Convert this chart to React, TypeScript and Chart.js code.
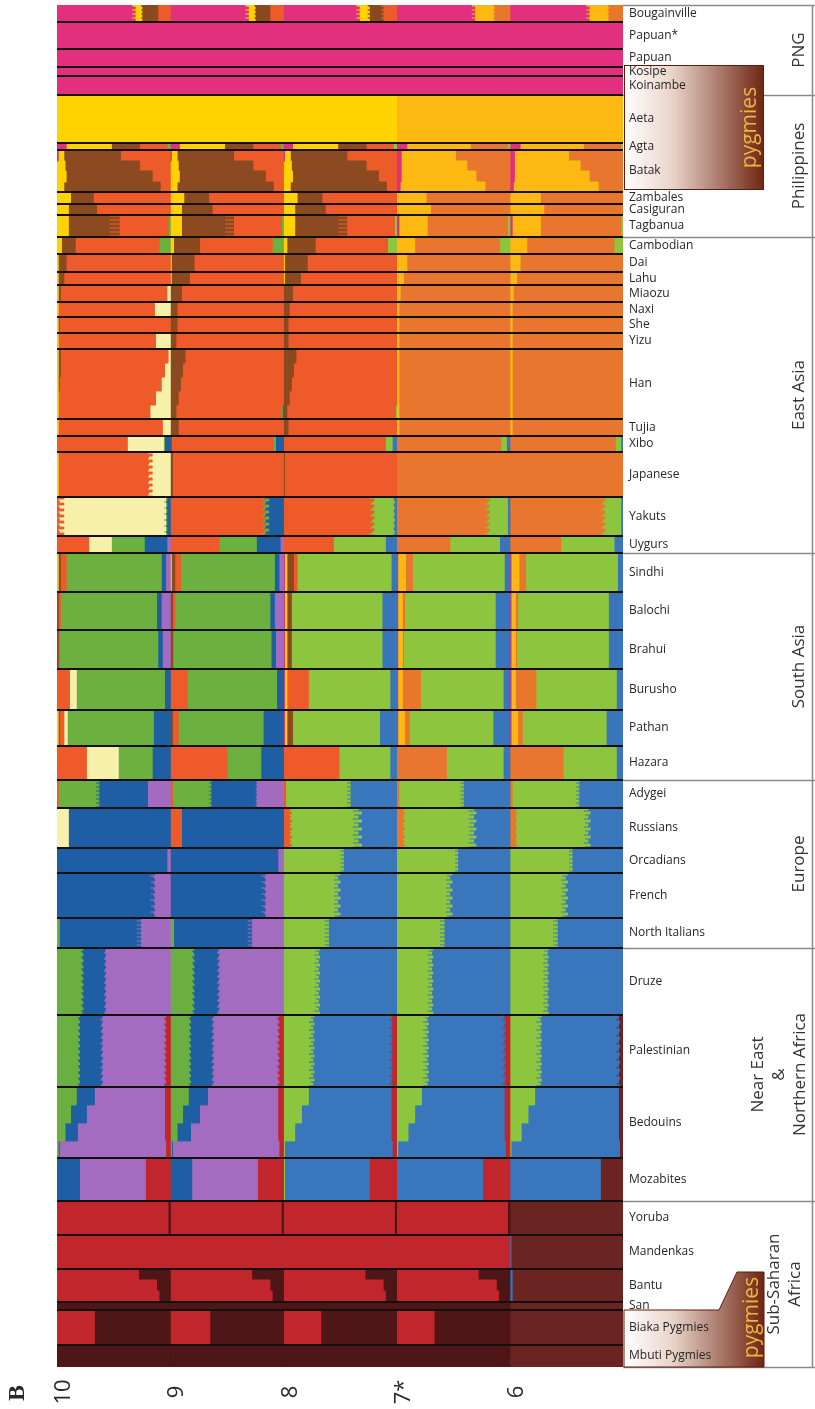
import { useEffect, useRef } from "react";
import { Chart, registerables } from "chart.js";
Chart.register(...registerables);

// ---------- DATA ----------
const populations = [
  "Bougainville", "Papuan*", "Papuan", "Kosipe", "Koinambe",
  "Aeta", "Agta", "Batak", "Zambales", "Casiguran", "Tagbanua",
  "Cambodian", "Dai", "Lahu", "Miaozu", "Naxi", "She", "Yizu", "Han", "Tujia", "Xibo", "Japanese", "Yakuts", "Uygurs",
  "Sindhi", "Balochi", "Brahui", "Burusho", "Pathan", "Hazara",
  "Adygei", "Russians", "Orcadians", "French", "North Italians",
  "Druze", "Palestinian", "Bedouins", "Mozabites",
  "Yoruba", "Mandenkas", "Bantu", "San", "Biaka Pygmies", "Mbuti Pygmies",
];
// number of individual rows per population
const sizes = [17, 27, 18, 9, 19, 48, 7, 42, 12, 11, 22, 17, 18, 13, 17, 15, 16, 16, 70, 17, 16, 45, 39, 17,
  39, 38, 39, 41, 36, 34, 28, 40, 25, 45, 30, 67, 72, 71, 43, 34, 34, 33, 8, 35, 22];

const regionNames = [["PNG"], ["Philippines"], ["East Asia"], ["South Asia"], ["Europe"], ["Near East", "&", "Northern Africa"], ["Sub-Saharan", "Africa"]];
const regionLast = ["Koinambe", "Tagbanua", "Uygurs", "Hazara", "North Italians", "Mozabites", "Mbuti Pygmies"];
const kLabels = ["10", "9", "8", "7*", "6"];

const comps10 = ["P", "Y", "B", "O", "L", "G", "U", "V", "R", "M"];
const comps9 = ["P", "Y", "B", "O", "G", "U", "V", "R", "M"];
const comps8 = ["P", "Y", "B", "O", "G", "U", "R", "M"];
const comps7 = ["P", "Y", "O", "G", "U", "R", "M"];
const comps6 = ["P", "Y", "O", "G", "U", "A"];

type Mix = Record<string, number>;
type Entry = Mix | Mix[];

const K10: Entry[] = [
  [{ P: .66, Y: .08, B: .15, O: .11 }, { P: .69, Y: .06, B: .14, O: .11 }],
  { P: 1 }, { P: 1 }, { P: 1 }, { P: 1 },
  { Y: 1 },
  { P: .08, Y: .4, B: .25, O: .24, G: .03 },
  [{ P: .01, Y: .05, B: .5, O: .44 }, { Y: .07, B: .66, O: .27 }, { Y: .08, B: .76, O: .16 }, { Y: .06, B: .85, O: .09 }],
  { Y: .12, B: .2, O: .68 },
  { Y: .1, B: .25, O: .65 },
  [{ Y: .1, B: .36, O: .52, G: .02 }, { Y: .1, B: .45, O: .43, G: .02 }],
  { Y: .04, B: .12, O: .74, G: .1 },
  { Y: .01, B: .07, O: .92 },
  { Y: .01, B: .05, O: .94 },
  { Y: .01, B: .02, O: .94, L: .03 },
  { Y: .01, O: .85, L: .14 },
  { Y: .01, B: .01, O: .98 },
  { Y: .01, O: .86, L: .13 },
  [{ Y: .01, B: .02, O: .95, L: .02 }, { Y: .01, B: .02, O: .92, L: .05 }, { Y: .01, B: .01, O: .9, L: .08 }, { Y: .01, O: .86, L: .13 }, { Y: .01, O: .81, L: .18 }],
  { Y: .01, O: .92, L: .07 },
  { O: .62, L: .32, G: .01, U: .05 },
  [{ Y: .01, O: .79, L: .2 }, { Y: .01, O: .83, L: .16 }, { Y: .01, O: .8, L: .19 }],
  [{ O: .06, L: .9, G: .01, U: .03 }, { O: .01, L: .95, G: .01, U: .03 }, { O: .02, L: .92, G: .02, U: .04 }],
  { O: .28, L: .2, G: .29, U: .2, V: .03 },
  { Y: .01, B: .02, O: .05, G: .84, U: .04, V: .04 },
  { B: .01, O: .02, G: .85, U: .04, V: .08 },
  { B: .01, O: .01, G: .87, U: .04, V: .07 },
  { O: .11, L: .06, G: .78, U: .05 },
  { Y: .01, B: .01, O: .04, L: .03, G: .76, U: .15 },
  { O: .26, L: .28, G: .3, U: .16 },
  [{ O: .01, G: .36, U: .43, V: .2 }, { O: .01, G: .33, U: .46, V: .2 }],
  { L: .1, U: .9 },
  { U: .97, V: .03 },
  [{ U: .86, V: .14 }, { U: .82, V: .18 }, { U: .85, V: .15 }],
  [{ G: .02, U: .72, V: .26 }, { G: .02, U: .68, V: .3 }],
  [{ G: .23, U: .2, V: .57 }, { G: .21, U: .21, V: .58 }, { G: .22, U: .19, V: .59 }],
  [{ G: .2, U: .2, V: .56, R: .04 }, { G: .18, U: .21, V: .55, R: .06 }, { G: .19, U: .19, V: .57, R: .05 }],
  [{ G: .17, U: .16, V: .62, R: .05 }, { G: .12, U: .14, V: .69, R: .05 }, { G: .07, U: .11, V: .77, R: .05 }, { G: .01, U: .01, V: .94, R: .04 }],
  { U: .2, V: .58, R: .22 },
  { R: .98, M: .02 },
  { R: 1 },
  [{ R: .72, M: .28 }, { R: .88, M: .12 }, { R: .9, M: .1 }],
  { M: 1 },
  { R: .33, M: .67 },
  { M: 1 },
];

const K9: Entry[] = [
  [{ P: .66, Y: .08, B: .14, O: .12 }, { P: .69, Y: .06, B: .13, O: .12 }],
  { P: 1 }, { P: 1 }, { P: 1 }, { P: 1 },
  { Y: 1 },
  { P: .08, Y: .4, B: .25, O: .24, G: .03 },
  [{ P: .01, Y: .05, B: .5, O: .44 }, { Y: .07, B: .66, O: .27 }, { Y: .08, B: .76, O: .16 }, { Y: .06, B: .85, O: .09 }],
  { Y: .12, B: .22, O: .66 },
  { Y: .1, B: .27, O: .63 },
  [{ Y: .1, B: .38, O: .5, G: .02 }, { Y: .1, B: .46, O: .42, G: .02 }],
  { Y: .03, B: .23, O: .64, G: .1 },
  { Y: .01, B: .2, O: .79 },
  { Y: .01, B: .16, O: .83 },
  { B: .1, O: .9 },
  { B: .06, O: .94 },
  { B: .06, O: .94 },
  { B: .05, O: .95 },
  [{ B: .13, O: .87 }, { B: .11, O: .89 }, { B: .09, O: .91 }, { B: .07, O: .93 }, { B: .05, O: .93, G: .01, U: .01 }],
  { B: .07, O: .93 },
  { B: .01, O: .9, G: .02, U: .07 },
  { B: .02, O: .98 },
  [{ O: .8, G: .03, U: .17 }, { O: .84, G: .03, U: .13 }, { O: .82, G: .02, U: .16 }],
  { O: .43, G: .33, U: .21, V: .03 },
  { Y: .01, B: .03, O: .05, G: .83, U: .04, V: .04 },
  { B: .02, O: .02, G: .84, U: .04, V: .08 },
  { B: .02, O: .01, G: .86, U: .04, V: .07 },
  { O: .15, G: .79, U: .06 },
  { B: .02, O: .05, G: .75, U: .18 },
  { O: .5, G: .3, U: .2 },
  [{ O: .02, G: .34, U: .39, V: .25 }, { O: .02, G: .32, U: .42, V: .24 }],
  { O: .1, U: .9 },
  { U: .95, V: .05 },
  [{ U: .84, V: .16 }, { U: .8, V: .2 }, { U: .83, V: .17 }],
  [{ G: .03, U: .69, V: .28 }, { G: .03, U: .65, V: .32 }],
  [{ G: .21, U: .22, V: .57 }, { G: .19, U: .23, V: .58 }, { G: .2, U: .21, V: .59 }],
  [{ G: .18, U: .2, V: .58, R: .04 }, { G: .16, U: .21, V: .57, R: .06 }, { G: .17, U: .19, V: .59, R: .05 }],
  [{ G: .16, U: .17, V: .62, R: .05 }, { G: .11, U: .15, V: .69, R: .05 }, { G: .06, U: .12, V: .77, R: .05 }, { G: .01, U: .01, V: .94, R: .04 }],
  { U: .19, V: .58, R: .23 },
  { R: .98, M: .02 },
  { R: 1 },
  [{ R: .72, M: .28 }, { R: .88, M: .12 }, { R: .9, M: .1 }],
  { M: 1 },
  { R: .35, M: .65 },
  { M: 1 },
];

const K8: Entry[] = [
  [{ P: .64, Y: .1, B: .12, O: .14 }, { P: .67, Y: .09, B: .12, O: .12 }],
  { P: 1 }, { P: 1 }, { P: 1 }, { P: 1 },
  { Y: 1 },
  { P: .08, Y: .4, B: .25, O: .24, G: .03 },
  [{ P: .01, Y: .05, B: .5, O: .44 }, { Y: .07, B: .66, O: .27 }, { Y: .08, B: .76, O: .16 }, { Y: .06, B: .85, O: .09 }],
  { Y: .12, B: .22, O: .66 },
  { Y: .1, B: .27, O: .63 },
  [{ Y: .1, B: .38, O: .5, G: .02 }, { Y: .1, B: .46, O: .42, G: .02 }],
  { Y: .03, B: .25, O: .64, G: .08 },
  { Y: .01, B: .2, O: .79 },
  { Y: .01, B: .14, O: .85 },
  { B: .08, O: .92 },
  { B: .05, O: .95 },
  { B: .04, O: .96 },
  { B: .04, O: .96 },
  [{ B: .11, O: .89 }, { B: .09, O: .91 }, { B: .07, O: .93 }, { B: .05, O: .95 }, { B: .03, O: .96, G: .01 }],
  { B: .04, O: .96 },
  { O: .9, G: .06, U: .04 },
  { B: .01, O: .99 },
  [{ O: .76, G: .21, U: .03 }, { O: .8, G: .17, U: .03 }, { O: .78, G: .2, U: .02 }],
  { O: .44, G: .46, U: .1 },
  { P: .01, Y: .02, B: .06, O: .03, G: .83, U: .05 },
  { P: .01, Y: .02, B: .04, G: .8, U: .13 },
  { P: .01, Y: .02, B: .04, G: .8, U: .13 },
  { P: .01, Y: .02, O: .19, G: .72, U: .06 },
  { P: .01, Y: .02, B: .05, G: .77, U: .15 },
  { O: .49, G: .45, U: .06 },
  [{ O: .02, G: .57, U: .41 }, { O: .02, G: .54, U: .44 }],
  [{ O: .06, G: .6, U: .34 }, { O: .05, G: .56, U: .39 }, { O: .07, G: .62, U: .31 }, { O: .05, G: .57, U: .38 }],
  [{ G: .53, U: .47 }, { G: .5, U: .5 }],
  [{ G: .5, U: .5 }, { G: .45, U: .55 }, { G: .48, U: .52 }, { G: .44, U: .56 }],
  [{ G: .4, U: .6 }, { G: .36, U: .64 }],
  [{ G: .32, U: .68 }, { G: .28, U: .72 }, { G: .31, U: .69 }, { G: .27, U: .73 }],
  [{ G: .27, U: .68, R: .05 }, { G: .24, U: .71, R: .05 }, { G: .26, U: .67, R: .07 }, { G: .22, U: .74, R: .04 }],
  [{ G: .22, U: .73, R: .05 }, { G: .16, U: .79, R: .05 }, { G: .1, U: .85, R: .05 }, { G: .01, U: .95, R: .04 }],
  { G: .01, U: .75, R: .24 },
  { R: .98, M: .02 },
  { R: 1 },
  [{ R: .72, M: .28 }, { R: .88, M: .12 }, { R: .9, M: .1 }],
  { M: 1 },
  { R: .33, M: .67 },
  { M: 1 },
];

const K7: Entry[] = [
  [{ P: .66, Y: .19, O: .15 }, { P: .69, Y: .17, O: .14 }],
  { P: 1 }, { P: 1 }, { P: 1 }, { P: 1 },
  { Y: 1 },
  { P: .09, Y: .56, O: .33, G: .02 },
  [{ P: .04, Y: .48, O: .48 }, { P: .04, Y: .58, O: .38 }, { P: .04, Y: .66, O: .3 }, { P: .03, Y: .75, O: .22 }],
  { Y: .26, O: .74 },
  { Y: .3, O: .7 },
  { P: .02, Y: .25, O: .71, G: .02 },
  { Y: .16, O: .75, G: .09 },
  { Y: .09, O: .91 },
  { Y: .06, O: .94 },
  { Y: .03, O: .97 },
  { Y: .02, O: .98 },
  { Y: .02, O: .98 },
  { Y: .02, O: .98 },
  { Y: .02, O: .98 },
  { Y: .02, O: .98 },
  { O: .92, G: .05, U: .03 },
  { O: 1 },
  [{ O: .78, G: .2, U: .02 }, { O: .82, G: .16, U: .02 }, { O: .8, G: .18, U: .02 }],
  { O: .47, G: .44, U: .09 },
  { P: .01, Y: .07, O: .06, G: .81, U: .05 },
  { P: .01, Y: .04, O: .02, G: .8, U: .13 },
  { P: .01, Y: .04, O: .01, G: .81, U: .13 },
  { P: .01, Y: .04, O: .16, G: .73, U: .06 },
  { P: .01, Y: .06, O: .04, G: .74, U: .15 },
  { O: .44, G: .5, U: .06 },
  [{ O: .02, G: .57, U: .41 }, { O: .02, G: .54, U: .44 }],
  [{ O: .06, G: .62, U: .32 }, { O: .05, G: .58, U: .37 }, { O: .07, G: .63, U: .3 }, { O: .05, G: .59, U: .36 }],
  [{ G: .54, U: .46 }, { G: .51, U: .49 }],
  [{ G: .49, U: .51 }, { G: .44, U: .56 }, { G: .47, U: .53 }, { G: .43, U: .57 }],
  [{ G: .42, U: .58 }, { G: .38, U: .62 }],
  [{ G: .32, U: .68 }, { G: .28, U: .72 }, { G: .31, U: .69 }, { G: .27, U: .73 }],
  [{ G: .28, U: .67, R: .05 }, { G: .25, U: .7, R: .05 }, { G: .27, U: .66, R: .07 }, { G: .23, U: .73, R: .04 }],
  [{ G: .22, U: .73, R: .05 }, { G: .16, U: .79, R: .05 }, { G: .1, U: .85, R: .05 }, { G: .01, U: .95, R: .04 }],
  { U: .76, R: .24 },
  { R: .98, M: .02 },
  { R: 1 },
  [{ R: .72, M: .28 }, { R: .88, M: .12 }, { R: .9, M: .1 }],
  { M: 1 },
  { R: .33, M: .67 },
  { M: 1 },
];

const K6: Entry[] = [
  [{ P: .67, Y: .19, O: .14 }, { P: .7, Y: .17, O: .13 }],
  { P: 1 }, { P: 1 }, { P: 1 }, { P: 1 },
  { Y: 1 },
  { P: .09, Y: .56, O: .33, G: .02 },
  [{ P: .04, Y: .48, O: .48 }, { P: .04, Y: .58, O: .38 }, { P: .04, Y: .66, O: .3 }, { P: .03, Y: .75, O: .22 }],
  { Y: .27, O: .73 },
  { Y: .3, O: .7 },
  { P: .02, Y: .25, O: .71, G: .02 },
  { Y: .15, O: .77, G: .08 },
  { Y: .09, O: .91 },
  { Y: .06, O: .94 },
  { Y: .03, O: .97 },
  { Y: .02, O: .98 },
  { Y: .02, O: .98 },
  { Y: .02, O: .98 },
  { Y: .02, O: .98 },
  { Y: .02, O: .98 },
  { O: .93, G: .05, U: .02 },
  { O: 1 },
  [{ O: .8, G: .18, U: .02 }, { O: .84, G: .14, U: .02 }, { O: .82, G: .16, U: .02 }],
  { O: .45, G: .47, U: .08 },
  { P: .01, Y: .07, O: .06, G: .81, U: .05 },
  { P: .01, Y: .04, O: .02, G: .8, U: .13 },
  { P: .01, Y: .04, O: .01, G: .81, U: .13 },
  { P: .01, Y: .04, O: .18, G: .71, U: .06 },
  { P: .01, Y: .06, O: .04, G: .74, U: .15 },
  { O: .47, G: .47, U: .06 },
  [{ O: .02, G: .59, U: .39 }, { O: .02, G: .56, U: .42 }],
  [{ O: .05, G: .64, U: .31 }, { O: .05, G: .6, U: .35 }, { O: .06, G: .65, U: .29 }, { O: .05, G: .61, U: .34 }],
  [{ G: .55, U: .45 }, { G: .52, U: .48 }],
  [{ G: .51, U: .49 }, { G: .46, U: .54 }, { G: .49, U: .51 }, { G: .45, U: .55 }],
  [{ G: .42, U: .58 }, { G: .38, U: .62 }],
  [{ G: .34, U: .66 }, { G: .3, U: .7 }, { G: .33, U: .67 }, { G: .29, U: .71 }],
  [{ G: .28, U: .68, A: .04 }, { G: .25, U: .71, A: .04 }, { G: .27, U: .67, A: .06 }, { G: .23, U: .74, A: .03 }],
  [{ G: .22, U: .74, A: .04 }, { G: .16, U: .8, A: .04 }, { G: .1, U: .86, A: .04 }, { G: .01, U: .96, A: .03 }],
  { U: .8, A: .2 },
  { A: 1 },
  { U: .01, A: .99 },
  { U: .02, A: .98 },
  { A: 1 },
  { A: 1 },
  { A: 1 },
];

// ---------- STYLES ----------
const colorsHi: Record<string, string> = { P: "#E2307F", Y: "#FFD200", B: "#8C4A20", O: "#EE5B2B", L: "#F7F0AA", G: "#6CB041", U: "#1F5FA4", V: "#A46CC0", R: "#C1272D", M: "#4E1617" };
const colorsMid: Record<string, string> = { P: "#E2307F", Y: "#FFD200", B: "#8C4A20", O: "#EE5B2B", G: "#8DC63F", U: "#3A76BB", R: "#C1272D", M: "#4E1617" };
const colorsLo: Record<string, string> = { P: "#E2307F", Y: "#FDB913", O: "#E8772E", G: "#8DC63F", U: "#3A76BB", R: "#C1272D", M: "#4E1617", A: "#6B2522" };

const panels = [
  { data: K10, comps: comps10, colors: colorsHi },
  { data: K9, comps: comps9, colors: colorsHi },
  { data: K8, comps: comps8, colors: colorsMid },
  { data: K7, comps: comps7, colors: colorsLo },
  { data: K6, comps: comps6, colors: colorsLo },
];

function buildRows() {
  const rows: { pop: number; local: number }[] = [];
  populations.forEach((_, p) => {
    for (let j = 0; j < sizes[p]; j++) rows.push({ pop: p, local: j });
  });
  return rows;
}

// profiles of a population are cycled in short runs so the edges look ragged
function mixFor(entry: Entry, local: number, n: number, ordered: boolean): Mix {
  if (Array.isArray(entry)) {
    if (ordered) {
      const idx = Math.min(entry.length - 1, Math.floor((local * entry.length) / n));
      return entry[idx];
    }
    return entry[Math.floor(local / 2) % entry.length];
  }
  return entry;
}
// populations whose profiles form a gradient from top to bottom
const orderedPops = ["Batak", "Han", "Bedouins", "Bantu"];

export default function App() {
  const ref = useRef<HTMLCanvasElement>(null);
  useEffect(() => {
    const rows = buildRows();
    const N = rows.length;
    const labels = rows.map((r) => populations[r.pop] + "#" + r.local);
    const datasets: any[] = [];
    panels.forEach((panel, k) => {
      panel.comps.forEach((c, ci) => {
        const data = rows.map((r) => {
          const m = mixFor(panel.data[r.pop], r.local, sizes[r.pop], orderedPops.includes(populations[r.pop]));
          const total = panel.comps.reduce((s, cc) => s + (m[cc] || 0), 0);
          const v = m[c] || 0;
          if (v <= 0) return null;
          let start = 0;
          for (let q = 0; q < ci; q++) start += m[panel.comps[q]] || 0;
          return [k + start / total, k + (start + v) / total];
        });
        datasets.push({
          label: kLabels[k] + ":" + c,
          data,
          backgroundColor: panel.colors[c],
          borderWidth: 0,
          barPercentage: 1,
          categoryPercentage: 1,
          grouped: false,
          inflateAmount: 0.4,
        });
      });
    });

    const popStart: number[] = [];
    let acc = 0;
    sizes.forEach((s) => { popStart.push(acc); acc += s; });

    const overlay = {
      id: "overlay",
      afterDatasetsDraw(chart: any) {
        const ctx = chart.ctx as CanvasRenderingContext2D;
        const area = chart.chartArea;
        const ys = chart.scales.y;
        const W = chart.width;
        const edge = (s: number) =>
          s <= 0 ? area.top : s >= N ? area.bottom : (ys.getPixelForValue(s - 1) + ys.getPixelForValue(s)) / 2;
        ctx.save();
        // population separators
        ctx.strokeStyle = "#151010";
        ctx.lineWidth = 2;
        for (let i = 1; i < populations.length; i++) {
          const y = Math.round(edge(popStart[i]));
          ctx.beginPath();
          ctx.moveTo(area.left, y);
          ctx.lineTo(area.right, y);
          ctx.stroke();
        }
        // region lines on the right
        ctx.strokeStyle = "#8a8a8a";
        ctx.lineWidth = 1.5;
        const regionEdges: number[] = [area.top];
        regionLast.forEach((name) => {
          const p = populations.indexOf(name);
          regionEdges.push(edge(popStart[p] + sizes[p]));
        });
        regionEdges.forEach((y) => {
          ctx.beginPath();
          ctx.moveTo(area.right, Math.round(y) + 0.5);
          ctx.lineTo(W, Math.round(y) + 0.5);
          ctx.stroke();
        });
        ctx.beginPath();
        ctx.moveTo(W - 2.5, area.top);
        ctx.lineTo(W - 2.5, area.bottom);
        ctx.stroke();

        // pygmy boxes
        const brown = "#6E2612";
        const yKos = edge(popStart[populations.indexOf("Kosipe")]) - 2;
        const yBatEnd = edge(popStart[populations.indexOf("Batak")] + sizes[populations.indexOf("Batak")]) - 2;
        const boxL = area.right + 1, boxR = area.right + 141;
        let g = ctx.createLinearGradient(boxL, 0, boxR, 0);
        g.addColorStop(0, "#ffffff");
        g.addColorStop(0.35, "#e9d3c8");
        g.addColorStop(1, brown);
        ctx.fillStyle = g;
        ctx.fillRect(boxL, yKos, boxR - boxL, yBatEnd - yKos);
        ctx.strokeStyle = "#5a1d0e";
        ctx.lineWidth = 1;
        ctx.strokeRect(boxL + 0.5, yKos + 0.5, boxR - boxL - 1, yBatEnd - yKos - 1);

        const yBiaka = edge(popStart[populations.indexOf("Biaka Pygmies")]);
        const yBantu = edge(popStart[populations.indexOf("Bantu")]) + 3;
        const yBot = area.bottom;
        g = ctx.createLinearGradient(boxL, 0, boxR, 0);
        g.addColorStop(0, "#ffffff");
        g.addColorStop(0.35, "#e9d3c8");
        g.addColorStop(1, brown);
        ctx.fillStyle = g;
        ctx.beginPath();
        ctx.moveTo(boxL, yBiaka);
        ctx.lineTo(boxL + 95, yBiaka);
        ctx.lineTo(boxL + 113, yBantu);
        ctx.lineTo(boxR, yBantu);
        ctx.lineTo(boxR, yBot);
        ctx.lineTo(boxL, yBot);
        ctx.closePath();
        ctx.fill();
        ctx.strokeStyle = "#5a1d0e";
        ctx.stroke();

        // pygmies text
        ctx.fillStyle = "#F2B33D";
        ctx.font = '21px "Open Sans"';
        ctx.textAlign = "center";
        ctx.textBaseline = "middle";
        const rot = (txt: string, x: number, y: number) => {
          ctx.save();
          ctx.translate(x, y);
          ctx.rotate(-Math.PI / 2);
          ctx.fillText(txt, 0, 0);
          ctx.restore();
        };
        rot("pygmies", boxR - 14, (yKos + yBatEnd) / 2);
        rot("pygmies", boxR - 12, (yBantu + yBot) / 2 - 2);

        // population labels
        ctx.fillStyle = "#262626";
        ctx.font = '12px "Open Sans"';
        ctx.textAlign = "left";
        populations.forEach((name, i) => {
          const y = (edge(popStart[i]) + edge(popStart[i] + sizes[i])) / 2;
          ctx.fillText(name, area.right + 6, y);
        });

        // region labels
        ctx.fillStyle = "#333333";
        ctx.font = '17px "Open Sans"';
        ctx.textAlign = "center";
        regionNames.forEach((lines, r) => {
          const yc = (regionEdges[r] + regionEdges[r + 1]) / 2;
          const lh = 21;
          const xc = lines.length === 1 ? W - 16 : lines.length === 2 ? W - 30 : W - 36;
          lines.forEach((t, li) => rot(t, xc - ((lines.length - 1) * lh) / 2 + li * lh, yc));
        });

        // K labels
        ctx.fillStyle = "#2a2a2a";
        ctx.font = '22px "Open Sans"';
        const step = (area.right - area.left) / 5;
        kLabels.forEach((t, k) => {
          ctx.textAlign = "center";
          rot(t, area.left + k * step + 7, area.bottom + 25);
        });
        ctx.font = 'bold 24px "Liberation Serif"';
        rot("B", 18, area.bottom + 26);
        ctx.restore();
      },
    };

    const chart = new Chart(ref.current!, {
      type: "bar",
      data: { labels, datasets },
      options: {
        indexAxis: "y",
        animation: false,
        responsive: false,
        events: [],
        layout: { padding: { left: 57, right: 192, top: 5, bottom: 42 } },
        plugins: { legend: { display: false }, tooltip: { enabled: false } },
        scales: {
          x: { type: "linear", min: 0, max: 5, display: false },
          y: { type: "category", display: false, offset: true },
        },
      },
      plugins: [overlay],
    } as any);
    return () => chart.destroy();
  }, []);
  return (
    <div style={{ position: "absolute", left: 0, top: 0, width: 815, height: 1409, background: "#fff" }}>
      <canvas ref={ref} width={815} height={1409} style={{ display: "block", width: 815, height: 1409 }} />
    </div>
  );
}
